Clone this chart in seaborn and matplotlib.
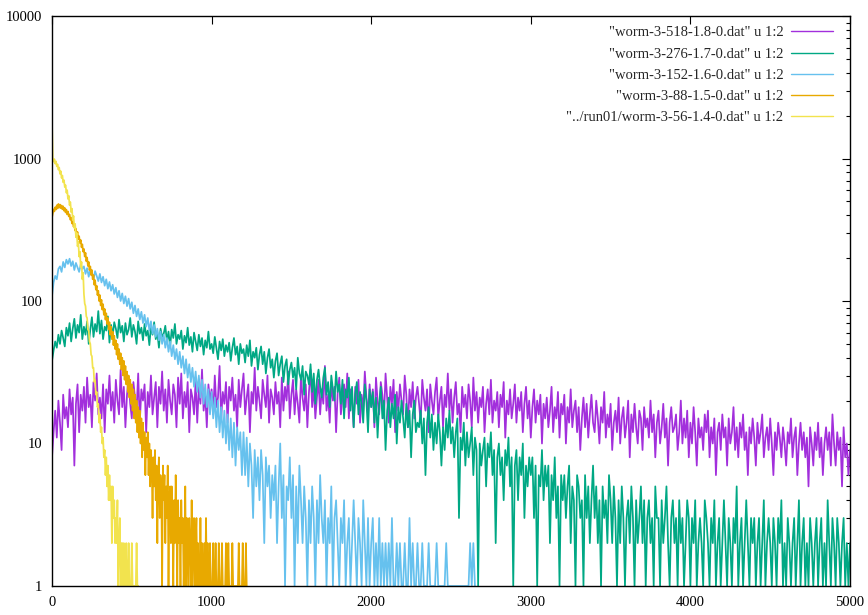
import numpy as np
import pandas as pd
import matplotlib
matplotlib.use("Agg")
import matplotlib.pyplot as plt
import seaborn as sns
from matplotlib.ticker import LogLocator, FuncFormatter, NullFormatter, FixedLocator

labels = [
    '"worm-3-518-1.8-0.dat" u 1:2',
    '"worm-3-276-1.7-0.dat" u 1:2',
    '"worm-3-152-1.6-0.dat" u 1:2',
    '"worm-3-88-1.5-0.dat" u 1:2',
    '"../run01/worm-3-56-1.4-0.dat" u 1:2',
]
colors = ["#a22fdc", "#00a884", "#66c1ee", "#e8a900", "#f2e34e"]

# series 1: worm-3-518 (x = 0..5000 step 10)
x_518 = np.arange(0, 5001, 10)
y_518 = [
    8, 12, 17, 11, 20, 14, 9, 22, 15, 18,
    13, 24, 16, 21, 7, 19, 26, 12, 22, 17,
    25, 14, 29, 18, 22, 13, 27, 20, 31, 16,
    21, 15, 26, 12, 24, 19, 30, 17, 23, 14,
    28, 20, 16, 33, 18, 25, 13, 22, 29, 19,
    15, 27, 21, 17, 31, 14, 24, 20, 26, 12,
    23, 18, 30, 16, 21, 27, 13, 25, 19, 32,
    17, 24, 14, 28, 20, 16, 26, 22, 13, 29,
    19, 31, 15, 23, 18, 27, 12, 24, 21, 16,
    28, 14, 25, 19, 33, 17, 22, 13, 26, 20,
    24, 16, 30, 18, 21, 35, 15, 23, 19, 27,
    14, 25, 20, 29, 17, 22, 13, 28, 18, 24,
    31, 16, 21, 26, 12, 23, 19, 34, 17, 25,
    20, 15, 28, 22, 18, 30, 14, 24, 21, 16,
    27, 19, 23, 13, 29, 17, 25, 20, 32, 15,
    22, 28, 16, 24, 19, 14, 30, 21, 17, 26,
    13, 23, 33, 18, 25, 15, 21, 28, 16, 24,
    19, 35, 17, 22, 14, 27, 20, 25, 12, 23,
    29, 16, 21, 26, 18, 31, 15, 24, 20, 13,
    25, 19, 28, 14, 22, 17, 32, 21, 16, 26,
    18, 24, 13, 29, 20, 16, 27, 22, 15, 31,
    21, 14, 25, 19, 28, 12, 23, 17, 26, 20,
    16, 30, 22, 13, 24, 18, 27, 15, 21, 25,
    19, 14, 28, 21, 17, 24, 12, 26, 20, 16,
    23, 29, 15, 20, 25, 13, 22, 18, 31, 17,
    24, 14, 21, 27, 16, 19, 12, 25, 18, 22,
    15, 26, 20, 13, 29, 17, 23, 14, 21, 18,
    25, 12, 19, 24, 16, 28, 14, 20, 17, 23,
    13, 22, 18, 27, 11, 20, 16, 24, 15, 19,
    26, 14, 21, 17, 23, 12, 19, 25, 15, 20,
    11, 18, 24, 14, 20, 16, 22, 10, 19, 15,
    21, 13, 17, 25, 12, 18, 15, 23, 11, 19,
    16, 22, 10, 18, 14, 24, 13, 17, 20, 12,
    18, 9, 15, 21, 13, 19, 11, 16, 22, 14,
    12, 20, 15, 10, 18, 14, 23, 11, 16, 13,
    19, 9, 14, 17, 12, 21, 10, 15, 18, 11,
    14, 20, 8, 16, 12, 19, 13, 10, 17, 15,
    9, 18, 13, 15, 11, 20, 12, 16, 8, 14,
    17, 10, 13, 19, 11, 15, 7, 14, 18, 12,
    13, 16, 9, 12, 20, 10, 15, 11, 17, 8,
    14, 10, 18, 12, 7, 15, 11, 13, 9, 16,
    12, 17, 8, 13, 10, 15, 6, 12, 14, 9,
    16, 11, 13, 7, 15, 10, 12, 18, 9, 13,
    8, 14, 11, 16, 9, 12, 6, 13, 10, 15,
    11, 7, 14, 10, 12, 16, 8, 11, 13, 9,
    15, 10, 6, 12, 9, 14, 11, 8, 13, 10,
    7, 12, 10, 15, 8, 11, 13, 6, 10, 14,
    9, 12, 8, 11, 5, 13, 10, 7, 12, 9,
    14, 8, 11, 6, 10, 13, 9, 12, 7, 16,
    10, 7, 12, 9, 11, 5, 13, 8, 10, 6,
    9,
]

# series 2: worm-3-276 (x = 0..5000 step 10)
x_276 = np.arange(0, 5001, 10)
y_276 = [
    38, 45, 52, 47, 58, 50, 62, 55, 48, 65,
    57, 70, 52, 64, 75, 55, 68, 60, 80, 54,
    66, 58, 72, 50, 63, 77, 56, 69, 61, 85,
    59, 73, 54, 66, 62, 78, 51, 68, 57, 71,
    64, 55, 74, 60, 67, 52, 70, 58, 63, 76,
    56, 68, 61, 50, 72, 59, 65, 53, 69, 57,
    62, 49, 66, 58, 71, 54, 60, 47, 64, 56,
    59, 67, 52, 61, 48, 63, 55, 69, 50, 58,
    54, 62, 46, 57, 51, 65, 49, 56, 44, 60,
    52, 45, 58, 48, 55, 42, 53, 47, 61, 46,
    50, 43, 56, 47, 39, 52, 45, 54, 41, 49,
    44, 51, 38, 47, 55, 42, 48, 36, 50, 43,
    46, 37, 49, 41, 53, 35, 44, 40, 47, 33,
    42, 48, 36, 44, 31, 40, 46, 34, 39, 29,
    38, 43, 30, 36, 41, 27, 35, 39, 26, 33,
    37, 29, 34, 24, 40, 31, 28, 35, 22, 32,
    30, 26, 36, 23, 31, 19, 28, 33, 25, 21,
    29, 34, 22, 27, 18, 30, 24, 20, 32, 23,
    26, 19, 28, 15, 24, 21, 29, 17, 25, 13,
    22, 27, 16, 23, 19, 14, 26, 20, 12, 24,
    18, 23, 14, 21, 11, 19, 25, 15, 20, 9,
    17, 21, 13, 19, 15, 22, 10, 18, 14, 20,
    15, 11, 19, 13, 17, 8, 16, 20, 12, 14,
    13, 17, 10, 15, 6, 14, 18, 11, 16, 9,
    14, 10, 16, 12, 7, 13, 9, 15, 11, 17,
    10, 13, 8, 12, 15, 3, 11, 9, 14, 7,
    12, 8, 10, 13, 6, 11, 9, 1, 10, 7,
    9, 11, 5, 10, 8, 12, 6, 9, 2, 8,
    10, 6, 8, 4, 9, 7, 11, 5, 8, 1,
    7, 9, 4, 8, 6, 10, 3, 7, 5, 8,
    6, 8, 3, 7, 1, 6, 5, 9, 4, 7,
    5, 7, 2, 6, 4, 8, 3, 5, 1, 6,
    4, 6, 3, 5, 7, 2, 5, 4, 1, 6,
    5, 3, 4, 1, 6, 3, 5, 2, 4, 7,
    3, 5, 2, 4, 1, 5, 3, 4, 2, 6,
    4, 2, 5, 3, 1, 4, 2, 5, 3, 1,
    3, 4, 2, 5, 3, 1, 4, 2, 3, 5,
    2, 4, 1, 3, 4, 2, 3, 1, 5, 3,
    3, 1, 4, 2, 3, 5, 2, 1, 3, 4,
    2, 3, 1, 4, 2, 3, 1, 2, 4, 3,
    1, 3, 2, 4, 1, 2, 3, 2, 1, 4,
    3, 2, 1, 3, 2, 4, 1, 2, 3, 1,
    2, 4, 2, 1, 3, 2, 1, 3, 2, 5,
    1, 2, 3, 1, 2, 4, 2, 1, 3, 2,
    3, 1, 2, 3, 1, 2, 4, 1, 2, 3,
    2, 1, 3, 2, 1, 3, 2, 4, 1, 2,
    1, 3, 2, 1, 2, 3, 1, 2, 4, 1,
    2, 3, 1, 2, 1, 3, 2, 1, 2, 3,
    1, 2, 3, 1, 2, 1, 4, 2, 1, 3,
    2, 1, 3, 2, 1, 2, 3, 1, 2, 1,
    2,
]

# series 3: worm-3-152 (x = 0..2650 step 10)
x_152 = np.arange(0, 2651, 10)
y_152 = [
    108, 135, 150, 142, 168, 175, 160, 188, 172, 195,
    182, 198, 176, 190, 165, 185, 172, 160, 181, 168,
    175, 155, 170, 148, 166, 158, 142, 162, 150, 138,
    155, 135, 148, 128, 142, 122, 136, 118, 130, 112,
    124, 106, 118, 100, 113, 96, 108, 92, 104, 88,
    98, 82, 93, 78, 88, 74, 84, 70, 80, 66,
    76, 62, 72, 59, 68, 56, 64, 53, 61, 50,
    58, 47, 55, 44, 52, 41, 49, 39, 46, 36,
    44, 34, 41, 31, 39, 29, 36, 27, 34, 25,
    32, 23, 30, 21, 28, 19, 26, 18, 24, 16,
    23, 15, 21, 13, 20, 12, 18, 11, 17, 10,
    16, 9, 15, 8, 14, 7, 13, 9, 12, 6,
    12, 6, 11, 5, 10, 7, 3, 9, 5, 8,
    4, 9, 6, 2, 8, 5, 7, 3, 6, 4,
    7, 2, 5, 10, 3, 6, 1, 5, 4, 8,
    3, 6, 1, 5, 2, 7, 4, 2, 5, 3,
    1, 4, 2, 5, 3, 1, 4, 2, 6, 3,
    2, 4, 1, 3, 2, 5, 1, 3, 4, 2,
    1, 3, 2, 4, 1, 2, 3, 1, 2, 4,
    2, 1, 3, 2, 1, 4, 2, 1, 3, 1,
    2, 3, 1, 2, 1, 3, 1, 2, 1, 2,
    1, 2, 1, 3, 1, 1, 2, 1, 2, 1,
    1, 2, 1, 1, 3, 1, 2, 1, 1, 2,
    1, 1, 2, 1, 1, 1, 2, 1, 1, 1,
    1, 2, 1, 1, 1, 1, 1, 2, 1, 1,
    1, 1, 1, 1, 1, 1, 1, 1, 1, 1,
    1, 1, 2, 1, 2, 1,
]

# series 4: worm-3-88 (x = 0..1220 step 5)
x_88 = np.arange(0, 1221, 5)
y_88 = [
    385, 410, 440, 425, 455, 438, 470, 446, 480, 452,
    475, 448, 468, 440, 462, 430, 450, 418, 438, 405,
    425, 392, 405, 372, 385, 350, 362, 332, 345, 312,
    322, 290, 305, 272, 285, 255, 268, 238, 250, 222,
    232, 205, 218, 190, 202, 176, 188, 165, 175, 152,
    165, 142, 152, 130, 140, 120, 128, 110, 118, 100,
    110, 93, 102, 87, 95, 80, 88, 74, 82, 69,
    76, 63, 71, 58, 66, 54, 61, 49, 57, 46,
    53, 42, 50, 39, 46, 36, 43, 33, 40, 30,
    38, 28, 35, 26, 32, 23, 30, 21, 28, 19,
    26, 17, 24, 15, 22, 14, 20, 12, 18, 11,
    17, 10, 15, 8, 14, 9, 12, 6, 11, 8,
    12, 6, 10, 5, 9, 7, 3, 8, 5, 9,
    4, 7, 2, 6, 8, 3, 6, 5, 1, 7,
    4, 6, 2, 5, 3, 7, 1, 4, 5, 2,
    5, 3, 1, 4, 2, 6, 3, 1, 4, 2,
    3, 1, 4, 2, 3, 1, 2, 5, 1, 3,
    2, 1, 3, 2, 1, 4, 1, 2, 3, 1,
    2, 3, 1, 2, 1, 1, 3, 1, 2, 1,
    1, 2, 1, 3, 1, 2, 1, 1, 2, 1,
    1, 1, 2, 1, 1, 2, 1, 1, 1, 2,
    1, 1, 1, 2, 1, 1, 1, 1, 2, 1,
    1, 2, 1, 1, 1, 1, 2, 1, 1, 1,
    1, 1, 1, 1, 2, 1, 1, 1, 1, 2,
    1, 1, 1, 2, 1,
]

# series 5: ../run01/worm-3-56 (x = 0..540 step 5)
x_56 = np.arange(0, 541, 5)
y_56 = [
    1800, 1000, 950, 990, 920, 955, 880, 910,
    835, 865, 780, 815, 730, 760, 680, 705,
    630, 650, 575, 600, 520, 548, 470, 495,
    420, 445, 370, 395, 325, 348, 280, 300,
    242, 260, 205, 222, 172, 188, 142, 158,
    112, 96, 92, 78, 76, 63, 62, 52,
    50, 42, 41, 34, 34, 27, 28, 22,
    23, 18, 19, 14, 16, 12, 13, 10,
    11, 8, 9, 6, 8, 5, 7, 4,
    6, 4, 5, 2, 5, 3, 4, 2,
    3, 2, 4, 1, 2, 3, 1, 2,
    2, 1, 2, 1, 1, 2, 1, 1,
    2, 1, 1, 1, 2, 1, 1, 1,
    1, 1, 2, 1, 1,
]

xs = [x_518, x_276, x_152, x_88, x_56]
ys = [y_518, y_276, y_152, y_88, y_56]

sns.set_style("white")
plt.rcParams["font.family"] = ["Liberation Serif", "DejaVu Serif"]

fig = plt.figure(figsize=(8.68, 6.15), dpi=100)
ax = fig.add_axes([52 / 868, 1 - 586 / 615, (850 - 52) / 868, (586 - 16) / 615])

for x, y, lab, col in zip(xs, ys, labels, colors):
    df = pd.DataFrame({"x": x, "count": y})
    sns.lineplot(data=df, x="x", y="count", color=col, linewidth=1.25,
                 estimator=None, sort=False, label=lab, ax=ax)

ax.set_yscale("log")
ax.set_xlim(0, 5000)
ax.set_ylim(1, 10000)
ax.set_xlabel("")
ax.set_ylabel("")

ax.xaxis.set_major_locator(FixedLocator([0, 1000, 2000, 3000, 4000, 5000]))
ax.yaxis.set_major_locator(FixedLocator([1, 10, 100, 1000, 10000]))
ax.yaxis.set_major_formatter(FuncFormatter(lambda v, p: f"{int(round(v))}"))
ax.yaxis.set_minor_locator(LogLocator(base=10, subs=np.arange(2, 10), numticks=20))
ax.yaxis.set_minor_formatter(NullFormatter())

ax.tick_params(axis="both", which="both", direction="in", top=True, right=True,
               colors="black", labelsize=10.5, width=0.8)
ax.tick_params(axis="both", which="major", length=6)
ax.tick_params(axis="y", which="minor", length=3)
ax.tick_params(axis="y", which="major", pad=7)
ax.tick_params(axis="x", which="major", pad=7)

for s in ax.spines.values():
    s.set_color("black")
    s.set_linewidth(1.0)

leg = ax.legend(loc="upper right", bbox_to_anchor=(0.9787, 0.982), frameon=False,
                markerfirst=False, handlelength=2.9, handletextpad=0.5,
                labelspacing=0.55, borderpad=0, borderaxespad=0, fontsize=10.5)
for h in leg.get_lines():
    h.set_linewidth(1.0)

fig.savefig("out.png", dpi=100)
